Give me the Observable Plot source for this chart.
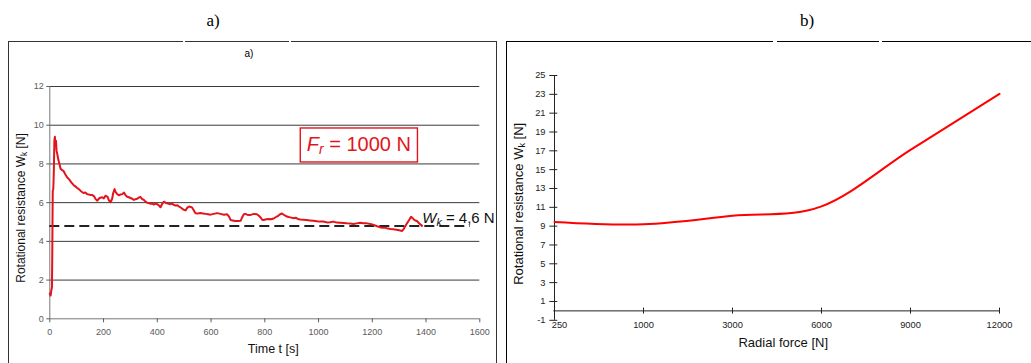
<!DOCTYPE html>
<html><head><meta charset="utf-8">
<script src="https://cdn.jsdelivr.net/npm/d3@7"></script>
<script src="https://cdn.jsdelivr.net/npm/@observablehq/plot@0.6"></script>
<style>
html,body{margin:0;padding:0;background:#fff;}
#root{position:relative;width:1031px;height:363px;overflow:hidden;font-family:"Liberation Sans",Arial,sans-serif;}
.box{position:absolute;box-sizing:border-box;}
.gap{position:absolute;background:#fff;top:39px;height:5px;z-index:5;}
.ttl{position:absolute;font-family:"Liberation Serif","Times New Roman",serif;font-size:17px;line-height:17px;transform:translateX(-50%);white-space:nowrap;}
</style></head><body><div id="root"></div>
<script>
// ---------- data: panel a (time series) ----------
const timeA = [
  0,3,6,8,9,10,11,13,15,17,
  19,21,23,25,28,32,36,40,46,52,
  58,65,72,80,89,95,102,108,114,120,
  125,132,139,145,150,157,164,170,176,185,
  195,201,207,215,220,226,232,236,241,245,
  250,257,263,270,276,282,288,294,300,307,
  313,319,325,331,337,343,350,356,362,369,
  375,381,387,394,400,406,412,416,420,425,
  432,440,448,455,462,468,475,481,487,492,
  497,505,512,518,524,530,536,542,550,561,
  570,580,589,598,610,623,635,648,660,667,
  673,680,690,700,710,716,722,728,734,742,
  750,760,771,778,785,790,796,805,815,824,
  833,842,850,857,864,872,880,888,895,905,
  915,923,932,943,955,968,981,993,1005,1018,
  1031,1043,1055,1068,1081,1093,1105,1118,1130,1142,
  1155,1168,1180,1193,1205,1218,1230,1240,1250,1258,
  1267,1278,1290,1300,1311,1316,1320,1329,1337,1344,
  1350,1355,1360,1366,1375,1385
];
const resistA = [
  1.30,1.20,1.50,1.60,3.00,4.80,6.60,6.70,7.60,9.20,
  9.40,8.95,9.20,8.70,8.50,8.20,8.00,7.75,7.68,7.62,
  7.45,7.30,7.20,7.05,6.90,6.84,6.76,6.70,6.62,6.55,
  6.50,6.52,6.44,6.42,6.40,6.40,6.34,6.20,6.10,6.24,
  6.28,6.22,6.36,6.30,6.12,6.02,6.20,6.50,6.70,6.55,
  6.45,6.38,6.42,6.44,6.52,6.38,6.30,6.28,6.24,6.20,
  6.14,6.18,6.20,6.26,6.30,6.20,6.14,6.05,6.00,5.98,
  5.94,5.96,5.90,5.95,5.92,5.85,5.76,5.88,5.98,6.05,
  5.98,5.95,5.92,5.95,5.88,5.85,5.86,5.80,5.75,5.70,
  5.64,5.60,5.74,5.80,5.78,5.74,5.60,5.45,5.44,5.46,
  5.44,5.42,5.40,5.38,5.42,5.46,5.42,5.38,5.40,5.28,
  5.10,5.08,5.05,5.05,5.06,5.25,5.40,5.42,5.38,5.36,
  5.38,5.42,5.40,5.32,5.22,5.12,5.10,5.14,5.15,5.14,
  5.18,5.26,5.32,5.40,5.44,5.36,5.30,5.26,5.24,5.20,
  5.22,5.16,5.13,5.12,5.10,5.08,5.06,5.04,5.02,5.03,
  4.98,4.99,5.02,4.97,4.96,4.95,4.93,4.92,4.90,4.93,
  4.96,4.94,4.93,4.90,4.85,4.78,4.72,4.70,4.70,4.66,
  4.64,4.62,4.60,4.57,4.54,4.62,4.72,4.93,5.10,5.27,
  5.20,5.12,5.08,5.05,4.92,4.80
];
const xTicksA = [0,200,400,600,800,1000,1200,1400,1600];
const yTicksA = [0,2,4,6,8,10,12];
const gridA = [2,4,6,8,10,12];
const meanLevelA = [4.8];          // dashed W_k level
const meanSpanA = [0, 1565];       // time span of dashed line
const wkNoteA = {t: 1386, w: 5.2};
const frNoteA = {t: 1150, w: 9.0};
const wkText = "Wk = 4,6 N";
const frText = "Fr = 1000 N";
const yLabelText = "Rotational resistance Wk [N]";
const xLabelA = "Time t [s]";

// ---------- data: panel b (radial force) ----------
const forceCats = ["250","1000","3000","6000","9000","12000"];
const resistB = [9.45, 9.2, 10.1, 11.1, 17.1, 23.05];
const yTicksB = [-1,1,3,5,7,9,11,13,15,17,19,21,23,25];
const xLabelB = "Radial force [N]";

const FONT = '"Liberation Sans", Arial, sans-serif';
const plain = d => String(d);
const root = document.getElementById("root");

// frames, titles
function addDiv(cls, style, text) {
  const d = document.createElement("div");
  d.className = cls; Object.assign(d.style, style);
  if (text) d.textContent = text;
  root.appendChild(d); return d;
}
addDiv("box", {left:"8px", top:"41px", width:"489px", height:"340px", border:"1px solid #333"});
addDiv("box", {left:"506px", top:"41px", width:"600px", height:"340px", border:"1.5px solid #000"});
addDiv("gap", {left:"182.5px", width:"2px"});
addDiv("gap", {left:"289px", width:"2px"});
addDiv("gap", {left:"773px", width:"3.5px"});
addDiv("gap", {left:"879px", width:"3px"});
addDiv("ttl", {left:"213px", top:"11.5px"}, "a)");
addDiv("ttl", {left:"807px", top:"11.5px"}, "b)");
addDiv("ttl", {left:"249px", top:"48.5px", fontFamily: FONT, fontSize:"10px", lineHeight:"10px", zIndex: 6}, "a)");

// ---------- panel a ----------
const dataA = timeA.map((t, i) => ({t, w: resistA[i]}));
const plotA = Plot.plot({
  width: 500, height: 363,
  marginLeft: 49.3, marginRight: 20.7, marginTop: 86, marginBottom: 44.7,
  style: {background: "transparent", overflow: "visible", fontFamily: FONT},
  x: {domain: [0, 1600]},
  y: {domain: [0, 12]},
  marks: [
    Plot.gridY(gridA, {stroke: "#3a3a3a", strokeOpacity: 1}),
    Plot.ruleY([0], {stroke: "#777"}),
    Plot.ruleX([0], {stroke: "#777"}),
    Plot.axisX(xTicksA, {tickSize: 4, tickPadding: 6, fontSize: 9, color: "#5a5a5a", tickFormat: plain, label: null}),
    Plot.axisY(yTicksA, {tickSize: 3, tickPadding: 3, fontSize: 9, color: "#5a5a5a", tickFormat: plain, label: null}),
    Plot.ruleY(meanLevelA, {x1: meanSpanA[0], x2: meanSpanA[1], stroke: "#222", strokeWidth: 2, strokeDasharray: "10,5"}),
    Plot.line(dataA, {x: "t", y: "w", stroke: "#e3141b", strokeWidth: 2}),
    Plot.text([wkNoteA], {x: "t", y: "w", text: () => wkText, textAnchor: "start", lineAnchor: "middle", fontSize: 15, fill: "#111"}),
    Plot.text([frNoteA], {x: "t", y: "w", text: () => frText, textAnchor: "middle", lineAnchor: "middle", fontSize: 20, fill: "#e3141b"}),
    Plot.text([yLabelText], {text: d => d, frameAnchor: "left", rotate: -90, dx: -28.6, dy: 5.3, fontSize: 12, textAnchor: "middle", lineAnchor: "middle", fill: "#111"}),
    Plot.text([xLabelA], {text: d => d, frameAnchor: "bottom", dx: 8.5, dy: 30, fontSize: 12.5, textAnchor: "middle", lineAnchor: "middle", fill: "#111"})
  ]
});
Object.assign(plotA.style, {position: "absolute", left: "0px", top: "0px", zIndex: 2});
root.appendChild(plotA);

// ---------- panel b ----------
const dataB = forceCats.map((f, i) => ({f, w: resistB[i]}));
const plotB = Plot.plot({
  width: 531, height: 363,
  marginLeft: 53.3, marginRight: 31, marginTop: 75, marginBottom: 43.2,
  style: {background: "transparent", overflow: "visible", fontFamily: FONT},
  x: {type: "point", domain: forceCats, padding: 0},
  y: {domain: [-1, 25]},
  marks: [
    Plot.ruleY([0], {stroke: "#222"}),
    Plot.ruleX([forceCats[0]], {stroke: "#222"}),
    Plot.axisX(forceCats, {tickSize: 6, dy: -12.2, tickPadding: 7.4, fontSize: 9.3, color: "#222", label: null}),
    Plot.axisY(yTicksB, {tickSize: 8, dx: 4, tickPadding: 4.3, fontSize: 9.3, color: "#222", tickFormat: plain, label: null}),
    Plot.line(dataB, {x: "f", y: "w", curve: "cardinal", tension: 0, stroke: "#ff0000", strokeWidth: 2}),
    Plot.text([yLabelText], {text: d => d, frameAnchor: "left", rotate: -90, dx: -35, dy: 5.9, fontSize: 13, textAnchor: "middle", lineAnchor: "middle", fill: "#111"}),
    Plot.text([xLabelB], {text: d => d, frameAnchor: "bottom", dx: 6.1, dy: 22.9, fontSize: 13, textAnchor: "middle", lineAnchor: "middle", fill: "#111"})
  ]
});
Object.assign(plotB.style, {position: "absolute", left: "500px", top: "0px", zIndex: 2});
root.appendChild(plotB);

// ---------- rich text (italic / subscript) ----------
function richText(svgNode, full, parts, shift) {
  d3.select(svgNode).selectAll("text").filter(function () { return this.textContent === full; }).each(function () {
    const el = d3.select(this);
    const fs = parseFloat(getComputedStyle(this).fontSize) || 12;
    el.text(null);
    let shifted = 0;
    for (const p of parts) {
      const ts = el.append("tspan").text(p.s);
      if (p.italic) ts.attr("font-style", "italic");
      const target = p.sub ? fs * shift : 0;
      if (target !== shifted) { ts.attr("dy", target - shifted); shifted = target; }
      if (p.sub) ts.attr("font-size", fs * 0.7);
    }
  });
}
const labelParts = [{s: "Rotational resistance W"}, {s: "k", sub: true}, {s: " [N]"}];
richText(plotA, yLabelText, labelParts, 0.18);
richText(plotB, yLabelText, labelParts, 0.18);
richText(plotA, wkText, [{s: "W", italic: true}, {s: "k", italic: true, sub: true}, {s: " = 4,6 N"}], 0.2);
richText(plotA, frText, [{s: "F", italic: true}, {s: "r", italic: true, sub: true}, {s: " = 1000 N"}], 0.15);

// box around the force annotation
d3.select(plotA).selectAll("text").filter(function () { return this.textContent === frText; }).each(function () {
  const bb = this.getBBox();
  d3.select(this.parentNode).insert("rect", () => this)
    .attr("transform", this.getAttribute("transform"))
    .attr("x", bb.x - 6.5).attr("y", bb.y - 5)
    .attr("width", bb.width + 13).attr("height", bb.height + 10)
    .attr("fill", "white").attr("stroke", "#e3141b").attr("stroke-width", 1.4);
});

// first category label in panel b sits just right of the axis
const xLabs = d3.select(plotB).selectAll('g[aria-label="x-axis tick label"] text');
if (!xLabs.empty()) d3.select(xLabs.nodes()[0]).attr("dx", 5);
</script>
</body></html>
